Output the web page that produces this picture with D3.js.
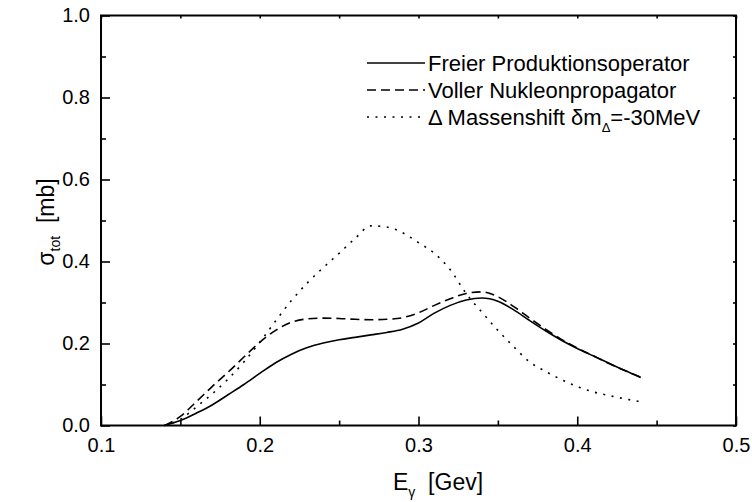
<!DOCTYPE html>
<html><head><meta charset="utf-8">
<script src="https://cdn.jsdelivr.net/npm/d3@7"></script>
<style>body{margin:0;background:#fff}svg{display:block}text{font-family:"Liberation Sans",Arial,sans-serif;fill:#000}</style>
</head><body><svg id="c" width="752" height="502"></svg>
<script>
const energy = [0.14,0.15,0.16,0.17,0.18,0.19,0.20,0.21,0.22,0.23,0.24,0.25,0.26,0.27,0.28,0.29,0.30,0.31,0.32,0.33,0.34,0.35,0.36,0.37,0.38,0.39,0.40,0.41,0.42,0.43,0.44];
const freier = [0,0.012,0.03,0.05,0.075,0.10,0.127,0.153,0.174,0.190,0.201,0.209,0.215,0.221,0.227,0.235,0.250,0.274,0.293,0.306,0.311,0.303,0.282,0.256,0.231,0.208,0.188,0.170,0.152,0.134,0.117];
const voller = [0,0.022,0.058,0.095,0.130,0.167,0.203,0.232,0.252,0.260,0.262,0.261,0.259,0.258,0.259,0.263,0.275,0.293,0.309,0.322,0.326,0.314,0.290,0.262,0.235,0.210,0.189,0.170,0.151,0.134,0.118];
const massenshift = [0,0.015,0.045,0.077,0.113,0.155,0.203,0.255,0.305,0.348,0.385,0.420,0.456,0.487,0.484,0.470,0.446,0.420,0.380,0.322,0.276,0.232,0.192,0.155,0.132,0.112,0.095,0.082,0.073,0.065,0.058];
const xTicks = [0.1,0.2,0.3,0.4,0.5];
const xMinor = [0.15,0.25,0.35,0.45];
const yTicks = [0.0,0.2,0.4,0.6,0.8,1.0];
const yMinor = [0.1,0.3,0.5,0.7,0.9];
const seriesNames = ["Freier Produktionsoperator","Voller Nukleonpropagator","Δ Massenshift δm"];

const svg = d3.select("#c");
const L=101,R=736,T=15.5,B=425.5;
const x = d3.scaleLinear().domain([0.1,0.5]).range([L,R]);
const y = d3.scaleLinear().domain([0,1]).range([B,T]);

const series = [
  {vals:freier, dash:null},
  {vals:voller, dash:"9,5"},
  {vals:massenshift, dash:"2,6.5"}
];
const line = d3.line().x((d,i)=>x(energy[i])).y(d=>y(d)).curve(d3.curveMonotoneX);
series.forEach(s=>{
  svg.append("path").attr("d",line(s.vals)).attr("fill","none").attr("stroke","#000")
    .attr("stroke-width",1.6).attr("stroke-dasharray",s.dash);
});

// axes
const fmt = d3.format(".1f");
const ax = (g, axis)=>{ g.call(axis); g.select(".domain").remove(); g.selectAll("line").attr("stroke","#000").attr("stroke-width",1.6); };
svg.append("g").attr("transform",`translate(0,${B})`).call(g=>ax(g,d3.axisBottom(x).tickValues(xTicks).tickSize(-9).tickPadding(12).tickFormat(fmt)))
  .selectAll("text").attr("font-size",20).attr("dy","0.71em");
svg.append("g").attr("transform",`translate(0,${B})`).call(g=>ax(g,d3.axisBottom(x).tickValues(xMinor).tickSize(-5).tickFormat("")));
svg.append("g").attr("transform",`translate(${L},0)`).call(g=>ax(g,d3.axisLeft(y).tickValues(yTicks).tickSize(-9).tickPadding(11).tickFormat(fmt)))
  .selectAll("text").attr("font-size",20);
svg.append("g").attr("transform",`translate(${L},0)`).call(g=>ax(g,d3.axisLeft(y).tickValues(yMinor).tickSize(-5).tickFormat("")));
svg.append("g").attr("transform",`translate(0,${T})`).call(g=>ax(g,d3.axisTop(x).tickValues(xTicks.concat(xMinor)).tickSize(-3).tickFormat("")));
svg.append("g").attr("transform",`translate(${R},0)`).call(g=>ax(g,d3.axisRight(y).tickValues(yTicks.concat(yMinor)).tickSize(-3).tickFormat("")));
svg.append("rect").attr("x",L).attr("y",T).attr("width",R-L).attr("height",B-T)
  .attr("fill","none").attr("stroke","#000").attr("stroke-width",2);

// axis titles
const xl = svg.append("text").attr("x",393).attr("y",490).attr("text-anchor","start").attr("font-size",23);
xl.append("tspan").text("E");
xl.append("tspan").attr("font-size",14).attr("dy",7).text("γ");
xl.append("tspan").attr("dy",-7).text("\u00a0\u00a0[Gev]");
const yl = svg.append("text").attr("transform","translate(54,222) rotate(-90)").attr("text-anchor","middle").attr("font-size",23);
yl.append("tspan").text("σ");
yl.append("tspan").attr("font-size",14).attr("dy",6).text("tot");
yl.append("tspan").attr("dy",-6).text("\u00a0\u00a0[mb]");

// legend
const legY=[63,90,117];
series.forEach((s,i)=>{
  svg.append("line").attr("x1",367).attr("x2",425).attr("y1",legY[i]).attr("y2",legY[i])
    .attr("stroke","#000").attr("stroke-width",1.6).attr("stroke-dasharray",s.dash);
  const t = svg.append("text").attr("x",428).attr("y",legY[i]+7.5).attr("font-size",22);
  t.append("tspan").text(seriesNames[i]);
  if(i===2){
    t.append("tspan").attr("font-size",13).attr("dy",7).text("Δ");
    t.append("tspan").attr("dy",-7).text("=-30MeV");
  }
});
</script></body></html>
